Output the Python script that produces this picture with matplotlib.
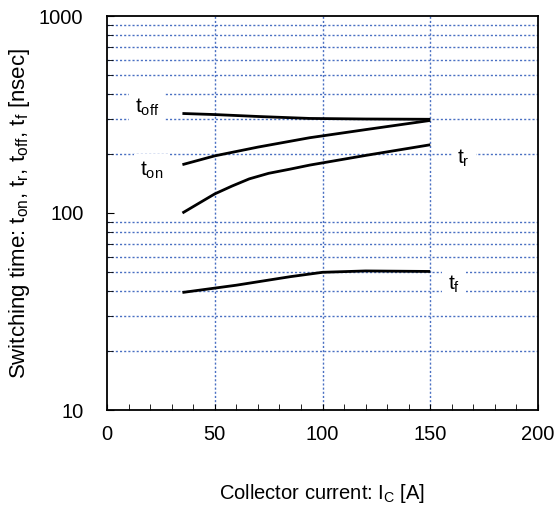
import numpy as np
import matplotlib
matplotlib.use("Agg")
import matplotlib.pyplot as plt
from matplotlib.ticker import MultipleLocator, LogLocator, NullFormatter, FixedLocator

plt.rcParams['font.family'] = ['Liberation Sans', 'DejaVu Sans']
plt.rcParams['mathtext.fontset'] = 'custom'
plt.rcParams['mathtext.rm'] = 'Liberation Sans'
plt.rcParams['mathtext.it'] = 'Liberation Sans'

# collector current [A] and switching times [nsec]
ic_off = [35, 50, 70, 94, 120, 150]
t_off = [320, 316, 309, 302, 300, 299]

ic_on = [35, 50, 70, 94, 120, 150]
t_on = [176, 195, 216, 241, 265, 295]

ic_r = [35, 42, 50, 58, 66, 75, 85, 94, 120, 150]
t_r = [100, 111, 125, 137, 149, 159, 167, 175, 196, 222]

ic_f = [35, 60, 85, 100, 120, 150]
t_f = [39.5, 43, 47.5, 50, 50.8, 50.5]

# label text and placement (data coords)
labels = [r'$\mathrm{t_{off}}$', r'$\mathrm{t_{on}}$', r'$\mathrm{t_r}$', r'$\mathrm{t_f}$']
label_x = [18.5, 20.5, 165.5, 161]
label_y = [345, 164, 189, 43.5]

fig = plt.figure(figsize=(5.57, 5.09), dpi=100)
ax = fig.add_axes([107 / 557, 99 / 509, 431 / 557, 394 / 509])

grid_col = '#4a70c2'
for x in [50, 100, 150]:
    ax.axvline(x, color=grid_col, lw=1.0, ls=(0, (1.5, 1.5)), zorder=1)
for dec in [10, 100]:
    for m in range(2, 10):
        ax.axhline(dec * m, color=grid_col, lw=1.0, ls=(0, (1.5, 1.5)), zorder=1)

for xs, ys in [(ic_off, t_off), (ic_on, t_on), (ic_r, t_r), (ic_f, t_f)]:
    ax.plot(xs, ys, color='black', lw=2, zorder=3, solid_capstyle='butt')

ax.set_yscale('log')
ax.set_xlim(0, 200)
ax.set_ylim(10, 1000)
ax.xaxis.set_major_locator(MultipleLocator(50))
ax.xaxis.set_minor_locator(MultipleLocator(10))
ax.yaxis.set_major_locator(FixedLocator([10, 100, 1000]))
ax.set_yticklabels(['10', '100', '1000'])
ax.yaxis.set_minor_locator(LogLocator(base=10, subs=np.arange(2, 10)))
ax.yaxis.set_minor_formatter(NullFormatter())
ax.tick_params(which='both', direction='in', labelsize=14.5)
ax.tick_params(axis='y', which='major', length=5, pad=17)
ax.tick_params(axis='y', which='minor', length=4)
ax.tick_params(axis='x', which='both', length=4, pad=11)
ax.tick_params(top=False, right=False)

for s in ax.spines.values():
    s.set_linewidth(1.3)

box = dict(facecolor='white', edgecolor='none', pad=4)
for txt, lx, ly in zip(labels, label_x, label_y):
    ax.text(lx, ly, txt, fontsize=15, ha='center', va='center', bbox=box, zorder=4)

ax.set_xlabel(r'Collector current: I$_\mathrm{C}$ [A]', fontsize=14.5, labelpad=27)
ax.set_ylabel(r'Switching time: t$_\mathrm{on}$, t$_\mathrm{r}$, t$_\mathrm{off}$, t$_\mathrm{f}$ [nsec]',
              fontsize=16, labelpad=5)

fig.savefig('out.png', dpi=100)
